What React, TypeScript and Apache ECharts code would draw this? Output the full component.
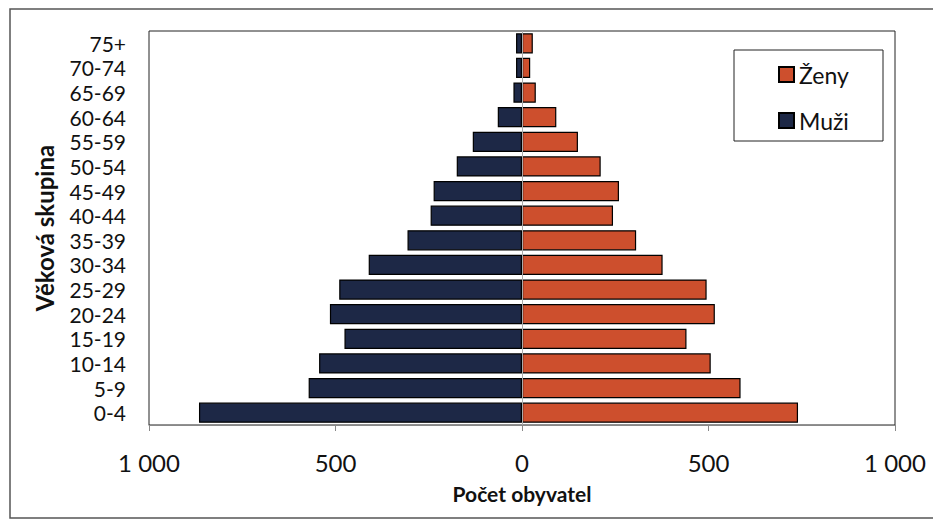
import React, { useEffect, useRef } from "react";
import * as echarts from "echarts";

const ageGroups = ["0-4", "5-9", "10-14", "15-19", "20-24", "25-29", "30-34", "35-39", "40-44", "45-49", "50-54", "55-59", "60-64", "65-69", "70-74", "75+"];
const men = [866, 572, 544, 476, 515, 490, 411, 307, 245, 237, 175, 132, 65, 23, 16, 16];
const women = [740, 586, 506, 441, 517, 495, 377, 306, 244, 260, 211, 150, 92, 37, 22, 29];
const xTicks = [-1000, -500, 0, 500, 1000];

const FONT = "Lato, 'Open Sans', sans-serif";

function fmt(v: number): string {
  return String(Math.abs(v)).replace(/\B(?=(\d{3})+(?!\d))/g, " ");
}

export default function App() {
  const ref = useRef<HTMLDivElement>(null);
  useEffect(() => {
    if (!ref.current) return;
    const chart = echarts.init(ref.current, null, { renderer: "svg" });
    chart.setOption({
      animation: false,
      backgroundColor: "#ffffff",
      textStyle: { fontFamily: FONT },
      grid: {
        left: 149,
        right: 38,
        top: 31,
        bottom: 96,
        show: true,
        borderColor: "#222",
        borderWidth: 1,
      },
      legend: {
        orient: "vertical",
        left: 773,
        top: 57,
        itemWidth: 15,
        itemHeight: 15,
        itemGap: 21,
        icon: "rect",
        data: ["Ženy", "Muži"],
        textStyle: { fontSize: 23, color: "#111", fontFamily: FONT, lineHeight: 25 },
      },
      xAxis: {
        type: "value",
        min: xTicks[0],
        max: xTicks[xTicks.length - 1],
        interval: 500,
        name: "Počet obyvatel",
        nameLocation: "middle",
        nameGap: 58,
        nameTextStyle: { fontSize: 21, fontWeight: "bold", color: "#111", fontFamily: FONT },
        axisLine: { show: true, lineStyle: { color: "#888", width: 1 } },
        axisTick: { show: true, length: 6, lineStyle: { color: "#888" } },
        splitLine: { show: false },
        axisLabel: {
          fontSize: 24,
          color: "#111",
          margin: 25,
          formatter: (v: number) => fmt(v),
        },
      },
      yAxis: {
        type: "category",
        data: ageGroups,
        name: "Věková skupina",
        nameLocation: "middle",
        nameGap: 93,
        nameRotate: 90,
        nameTextStyle: { fontSize: 24, fontWeight: "bold", color: "#111", fontFamily: FONT },
        axisLine: { show: false },
        axisTick: { show: false },
        axisLabel: { fontSize: 21, color: "#111", margin: 23, interval: 0 },
      },
      graphic: [
        {
          type: "rect",
          shape: { x: 10, y: 9, width: 940, height: 509 },
          style: { fill: "none", stroke: "#555", lineWidth: 1.5 },
          silent: true,
        },
        {
          type: "rect",
          shape: { x: 734, y: 50, width: 149, height: 91 },
          style: { fill: "none", stroke: "#222", lineWidth: 1 },
          silent: true,
        },
      ],
      series: [
        {
          name: "Muži",
          type: "bar",
          stack: "pop",
          data: men.map((v) => -v),
          barCategoryGap: "18%",
          itemStyle: { color: "#1d2846", borderColor: "#000", borderWidth: 1.2 },
        },
        {
          name: "Ženy",
          type: "bar",
          stack: "pop",
          data: women,
          barCategoryGap: "18%",
          itemStyle: { color: "#cd4f2d", borderColor: "#000", borderWidth: 1.2 },
          markLine: {
            silent: true,
            symbol: "none",
            label: { show: false },
            lineStyle: { color: "#aaa", width: 1, type: "solid" },
            data: [{ xAxis: 0 }],
          },
        },
      ],
    });
    return () => chart.dispose();
  }, []);
  return <div ref={ref} style={{ position: "fixed", left: 0, top: 0, width: 933, height: 521 }} />;
}
